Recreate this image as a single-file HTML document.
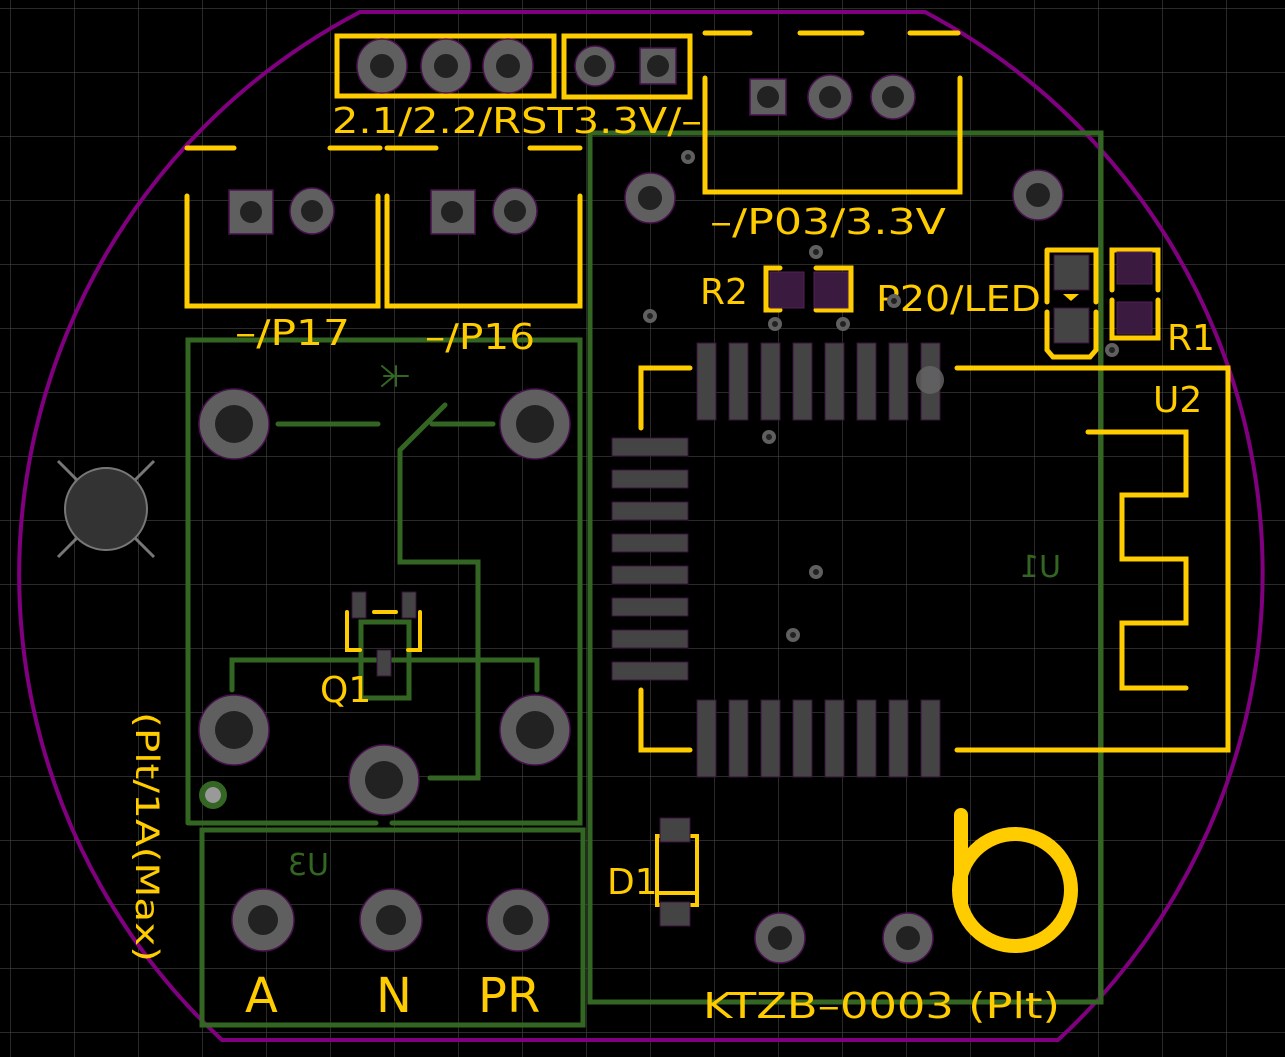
<!DOCTYPE html>
<html><head><meta charset="utf-8"><style>
html,body{margin:0;padding:0;background:#000;overflow:hidden;width:1285px;height:1057px;}
svg{display:block}
text{font-family:"DejaVu Sans","Liberation Sans",sans-serif;}
</style></head><body>
<svg width="1285" height="1057" viewBox="0 0 1285 1057" xmlns="http://www.w3.org/2000/svg">
<defs>
<pattern id="g" x="10" y="8" width="64" height="64" patternUnits="userSpaceOnUse">
<path d="M0 0H64M0 0V64" stroke="#444" stroke-width="1.2" fill="none"/>
</pattern>
</defs>
<rect width="1285" height="1057" fill="#000"/>
<rect width="1285" height="1057" fill="url(#g)"/>

<path d="M360 12H925A635 635 0 0 1 1058 1040H222A635 635 0 0 1 360 12Z" stroke="#800080" stroke-width="4" fill="none"/>

<g stroke="#336622" stroke-width="5" fill="none" stroke-linecap="round">
<rect x="590" y="133" width="511" height="869"/>
<path d="M188 823V340H580V823H392M376 823H188"/>
<rect x="202" y="830" width="381" height="195"/>
<line x1="278" y1="424" x2="378" y2="424"/>
<line x1="432" y1="424" x2="493" y2="424"/>
<line x1="400" y1="450" x2="445" y2="405"/>
<path d="M400 450V562H478V778H430"/>
<path d="M232 690V660H537V690"/>
<rect x="361" y="622" width="48" height="76"/>
<path d="M382 366l12 10-12 10M396 366v20M384 376h24" stroke-width="2"/>
<circle cx="213" cy="795" r="11" stroke-width="6"/>
</g>
<circle cx="213" cy="795" r="8" fill="#999"/>
<text x="1061" y="577" fill="#336622" font-size="30" transform="translate(2122,0) scale(-1,1)">U1</text>
<text x="329" y="875" fill="#336622" font-size="30" transform="translate(658,0) scale(-1,1)">U3</text>

<g stroke="#ffcc00" stroke-width="5" fill="none" stroke-linecap="round">
<rect x="337" y="36" width="217" height="60"/>
<rect x="564" y="36" width="126" height="61"/>
<line x1="705" y1="33" x2="750" y2="33"/><line x1="800" y1="33" x2="862" y2="33"/><line x1="910" y1="33" x2="958" y2="33"/>
<path d="M705 78V192H960V78"/>
<line x1="187" y1="148" x2="234" y2="148"/><line x1="330" y1="148" x2="380" y2="148"/>
<line x1="387" y1="148" x2="436" y2="148"/><line x1="530" y1="148" x2="580" y2="148"/>
<path d="M187 196V306H378V196"/>
<path d="M387 196V306H580V196"/>
<path d="M780 268H766V310H780M816 268H851V310H816"/>
<path d="M1047 250H1096V302M1047 250V302M1047 312V350L1053 357H1090L1096 350V312"/>
<path d="M1112 290V250H1158V290M1112 300V338H1158V300"/>
<path d="M690 368H641V428M641 690V750H690M957 368H1228V750H957"/>
<path d="M1088 432H1186V495H1122V559H1186V623H1122V688H1186"/>
<path d="M657 836V905H697V836ZM657 893H697" stroke-width="4"/>
<path d="M347 612V650H360M420 612V650H408M374 612H396" stroke-width="4"/>
<path d="M961 815V905" stroke-width="14"/>
<circle cx="1015" cy="890" r="56" stroke-width="14"/>
</g>
<path d="M1063 294h16l-8 7z" fill="#ffcc00"/>
<g fill="#ffcc00" font-size="36">
<text x="332" y="133" textLength="370" lengthAdjust="spacingAndGlyphs">2.1/2.2/RST3.3V/–</text>
<text x="710" y="234" textLength="236" lengthAdjust="spacingAndGlyphs">–/P03/3.3V</text>
<text x="235" y="345" textLength="115" lengthAdjust="spacingAndGlyphs">–/P17</text>
<text x="425" y="349" textLength="110" lengthAdjust="spacingAndGlyphs">–/P16</text>
<text x="700" y="304">R2</text>
<text x="876" y="311" textLength="165" lengthAdjust="spacingAndGlyphs">P20/LED</text>
<text x="1167" y="350">R1</text>
<text x="1153" y="412">U2</text>
<text x="320" y="702">Q1</text>
<text x="607" y="894">D1</text>
<text x="703" y="1018" textLength="357" lengthAdjust="spacingAndGlyphs">KTZB–0003 (Plt)</text>
<text x="0" y="0" transform="translate(136,712) rotate(90)" textLength="250" lengthAdjust="spacingAndGlyphs" font-size="32">(Plt/1A(Max)</text>
<text x="245" y="1012" font-size="48">A</text>
<text x="376" y="1012" font-size="48">N</text>
<text x="478" y="1012" font-size="48">PR</text>
</g>

<g fill="#444" stroke="#3a1040" stroke-width="1">
<g id="tp">
<rect x="697" y="343" width="19" height="77"/><rect x="729" y="343" width="19" height="77"/>
<rect x="761" y="343" width="19" height="77"/><rect x="793" y="343" width="19" height="77"/>
<rect x="825" y="343" width="19" height="77"/><rect x="857" y="343" width="19" height="77"/>
<rect x="889" y="343" width="19" height="77"/><rect x="921" y="343" width="19" height="77"/>
</g>
<use href="#tp" y="357"/>
<rect x="612" y="438" width="76" height="18"/><rect x="612" y="470" width="76" height="18"/>
<rect x="612" y="502" width="76" height="18"/><rect x="612" y="534" width="76" height="18"/>
<rect x="612" y="566" width="76" height="18"/><rect x="612" y="598" width="76" height="18"/>
<rect x="612" y="630" width="76" height="18"/><rect x="612" y="662" width="76" height="18"/>
<rect x="1054" y="255" width="35" height="35"/><rect x="1054" y="308" width="35" height="35"/>
<rect x="660" y="818" width="30" height="24"/><rect x="660" y="902" width="30" height="24"/>
<rect x="352" y="592" width="14" height="26"/><rect x="402" y="592" width="14" height="26"/><rect x="377" y="650" width="14" height="26"/>
</g>
<g fill="#3b1a40" stroke="#55205a">
<rect x="770" y="272" width="34" height="36"/><rect x="814" y="272" width="34" height="36"/>
<rect x="1117" y="252" width="35" height="32"/><rect x="1117" y="302" width="35" height="32"/>
</g>
<circle cx="930" cy="380" r="14" fill="#666" opacity="0.8"/>

<g stroke="#4a1050" stroke-width="1.5">
<g fill="#5f5f5f">
<ellipse cx="382" cy="66" rx="25" ry="27"/><ellipse cx="446" cy="66" rx="25" ry="27"/><ellipse cx="508" cy="66" rx="25" ry="27"/>
<circle cx="595" cy="66" r="20"/><rect x="640" y="48" width="36" height="36"/>
<rect x="750" y="79" width="36" height="36"/><circle cx="830" cy="97" r="22"/><circle cx="893" cy="97" r="22"/>
<rect x="229" y="190" width="44" height="44"/><ellipse cx="312" cy="211" rx="22" ry="23"/>
<rect x="431" y="190" width="44" height="44"/><ellipse cx="515" cy="211" rx="22" ry="23"/>
<circle cx="650" cy="198" r="25"/><circle cx="1038" cy="195" r="25"/>
<circle cx="234" cy="424" r="35"/><circle cx="535" cy="424" r="35"/>
<circle cx="234" cy="730" r="35"/><circle cx="535" cy="730" r="35"/><circle cx="384" cy="780" r="35"/>
<circle cx="263" cy="920" r="31"/><circle cx="391" cy="920" r="31"/><circle cx="518" cy="920" r="31"/>
<circle cx="780" cy="938" r="25"/><circle cx="908" cy="938" r="25"/>
</g>
</g>
<g fill="#222">
<circle cx="382" cy="66" r="12"/><circle cx="446" cy="66" r="12"/><circle cx="508" cy="66" r="12"/>
<circle cx="595" cy="66" r="11"/><circle cx="658" cy="66" r="11"/>
<circle cx="768" cy="97" r="11"/><circle cx="830" cy="97" r="11"/><circle cx="893" cy="97" r="11"/>
<circle cx="251" cy="212" r="11"/><circle cx="312" cy="211" r="11"/><circle cx="452" cy="212" r="11"/><circle cx="515" cy="211" r="11"/>
<circle cx="650" cy="198" r="12"/><circle cx="1038" cy="195" r="12"/>
<circle cx="234" cy="424" r="19"/><circle cx="535" cy="424" r="19"/><circle cx="234" cy="730" r="19"/><circle cx="535" cy="730" r="19"/><circle cx="384" cy="780" r="19"/>
<circle cx="263" cy="920" r="15"/><circle cx="391" cy="920" r="15"/><circle cx="518" cy="920" r="15"/>
<circle cx="780" cy="938" r="12"/><circle cx="908" cy="938" r="12"/>
</g>
<g fill="#222" stroke="#5f5f5f" stroke-width="4">
<circle cx="688" cy="157" r="5"/><circle cx="816" cy="252" r="5"/><circle cx="650" cy="316" r="5"/>
<circle cx="775" cy="324" r="5"/><circle cx="843" cy="324" r="5"/><circle cx="894" cy="301" r="5"/>
<circle cx="1112" cy="350" r="5"/><circle cx="769" cy="437" r="5"/><circle cx="816" cy="572" r="5"/><circle cx="793" cy="635" r="5"/>
</g>

<g stroke="#777" stroke-width="3">
<line x1="58" y1="461" x2="154" y2="557"/><line x1="154" y1="461" x2="58" y2="557"/>
</g>
<circle cx="106" cy="509" r="41" fill="#333" stroke="#777" stroke-width="2"/>
</svg>
</body></html>
